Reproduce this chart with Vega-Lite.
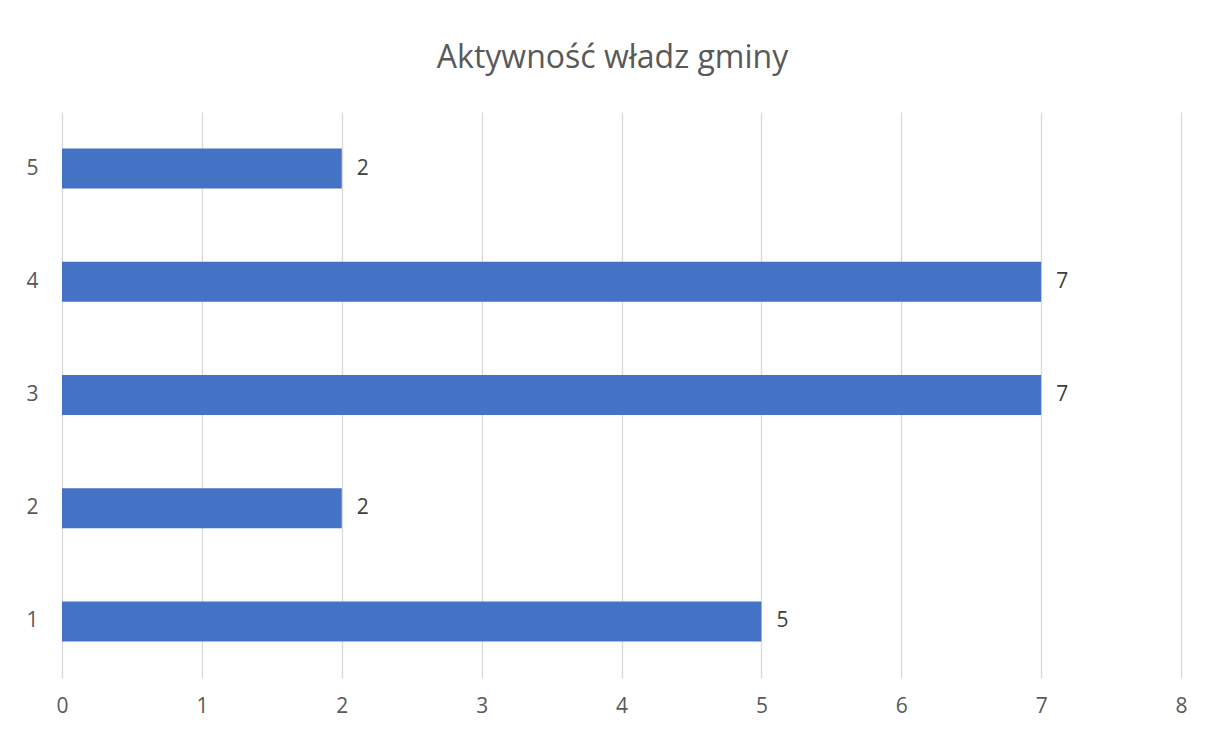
{
  "$schema": "https://vega.github.io/schema/vega-lite/v6.json",
  "width": 1119,
  "height": 566,
  "autosize": {"type": "none"},
  "padding": {"left": 62, "top": 112, "right": 24, "bottom": 53},
  "background": "white",
  "title": {
    "text": "Aktywność władz gminy",
    "font": "Open Sans",
    "fontSize": 32,
    "fontWeight": "normal",
    "color": "#595959",
    "anchor": "middle",
    "dx": -9,
    "offset": 37
  },
  "config": {
    "view": {"stroke": null},
    "font": "Open Sans"
  },
  "data": {
    "values": [
      {"kategoria": "1", "wartosc": 5},
      {"kategoria": "2", "wartosc": 2},
      {"kategoria": "3", "wartosc": 7},
      {"kategoria": "4", "wartosc": 7},
      {"kategoria": "5", "wartosc": 2}
    ]
  },
  "encoding": {
    "y": {
      "field": "kategoria",
      "type": "nominal",
      "sort": "descending",
      "scale": {"paddingInner": 0.647, "paddingOuter": 0.3235},
      "axis": {
        "title": null,
        "domain": false,
        "ticks": false,
        "labelFontSize": 21,
        "labelColor": "#595959",
        "labelPadding": 24,
        "labelFont": "Open Sans"
      }
    },
    "x": {
      "field": "wartosc",
      "type": "quantitative",
      "scale": {"domain": [0, 8], "nice": false},
      "axis": {
        "title": null,
        "domain": false,
        "ticks": false,
        "values": [0, 1, 2, 3, 4, 5, 6, 7, 8],
        "labelOverlap": false,
        "labelFlush": false,
        "labelFontSize": 21,
        "labelColor": "#595959",
        "labelPadding": 17,
        "labelFont": "Open Sans",
        "grid": true,
        "gridColor": "#d9d9d9",
        "gridWidth": 1.3
      }
    }
  },
  "layer": [
    {"mark": {"type": "bar", "color": "#4472C4", "cornerRadius": 0}},
    {
      "mark": {"type": "text", "align": "left", "baseline": "middle", "dx": 15, "fontSize": 21, "color": "#404040", "font": "Open Sans"},
      "encoding": {"text": {"field": "wartosc", "type": "quantitative"}}
    }
  ]
}
